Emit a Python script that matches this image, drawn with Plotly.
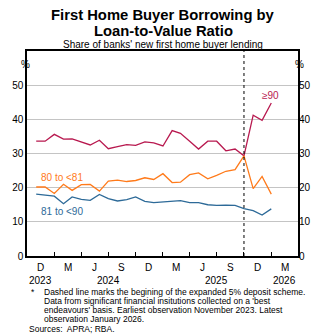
import plotly.graph_objects as go

months = ["2023-11-01", "2023-12-01", "2024-01-01", "2024-02-01", "2024-03-01", "2024-04-01",
          "2024-05-01", "2024-06-01", "2024-07-01", "2024-08-01", "2024-09-01", "2024-10-01",
          "2024-11-01", "2024-12-01", "2025-01-01", "2025-02-01", "2025-03-01", "2025-04-01",
          "2025-05-01", "2025-06-01", "2025-07-01", "2025-08-01", "2025-09-01", "2025-10-01",
          "2025-11-01", "2025-12-01", "2026-01-01"]

lvr_90_plus = [33.6, 33.6, 35.6, 34.2, 34.3, 33.4, 32.5, 33.9, 31.4, 32.0, 32.6, 32.4, 33.4, 33.1,
               32.2, 36.7, 35.9, 33.6, 31.3, 33.6, 33.6, 30.8, 31.3, 29.3, 41.2, 39.7, 44.8]
lvr_80_81 = [20.2, 20.2, 18.3, 21.0, 19.2, 20.9, 20.95, 19.0, 21.9, 22.2, 21.8, 22.1, 22.9, 22.4,
             24.1, 21.5, 21.6, 23.8, 24.3, 22.6, 23.6, 24.8, 25.3, 29.3, 19.7, 23.3, 18.1]
lvr_81_90 = [18.1, 17.8, 17.5, 15.3, 17.3, 16.6, 16.3, 18.0, 16.8, 16.1, 16.5, 17.3, 16.0, 15.6,
             15.8, 16.1, 16.2, 15.6, 15.6, 15.0, 14.8, 14.9, 14.8, 13.9, 13.3, 12.0, 13.8]

series_names = ["≥90", "80 to <81", "81 to <90"]
series_colors = ["#b8194f", "#ff7a1a", "#2d6a98"]

quarter_ticks = ["2024-01-01", "2024-04-01", "2024-07-01", "2024-10-01", "2025-01-01",
                 "2025-04-01", "2025-07-01", "2025-10-01", "2026-01-01"]
month_label_pos = ["2023-11-15", "2024-02-15", "2024-05-15", "2024-08-15", "2024-11-15",
                   "2025-02-15", "2025-05-15", "2025-08-15", "2025-11-15", "2026-02-15"]
month_labels = ["D", "M", "J", "S", "D", "M", "J", "S", "D", "M"]
year_label_pos = ["2023-11-15", "2024-07-01", "2025-07-01", "2026-02-15"]
year_labels = ["2023", "2024", "2025", "2026"]
y_ticks = [0, 10, 20, 30, 40, 50]
scheme_start = "2025-10-01"

FONT = "Liberation Sans, Arial, sans-serif"

fig = go.Figure()
for vals, name, col in zip([lvr_90_plus, lvr_80_81, lvr_81_90], series_names, series_colors):
    fig.add_trace(go.Scatter(x=months, y=vals, mode="lines", name=name,
                             line=dict(color=col, width=1.3), showlegend=False))
fig.add_trace(go.Scatter(x=months[:1], y=lvr_90_plus[:1], yaxis="y2", mode="markers",
                         marker=dict(opacity=0), showlegend=False, hoverinfo="skip"))

# plot area in pixels
top, bottom, left, right = 51, 256, 20, 298
H = bottom - top
W = right - left

def py(p):
    return (bottom - p) / H

fig.update_layout(
    width=323, height=334,
    margin=dict(l=left, r=323 - right, t=top, b=334 - bottom),
    paper_bgcolor="white", plot_bgcolor="white",
    font=dict(family=FONT, size=10, color="black"),
    xaxis=dict(type="date", range=["2023-10-01", "2026-04-01"], tickvals=quarter_ticks,
               showticklabels=False, ticks="inside", ticklen=4, tickcolor="black",
               showgrid=False, showline=True, linecolor="black", linewidth=1.5, mirror=True,
               zeroline=False),
    yaxis=dict(range=[0, 60], tickvals=y_ticks, showgrid=True, gridcolor="#c4c4c4",
               gridwidth=1, showline=True, linecolor="black", linewidth=1.5, mirror=True,
               zeroline=False, ticks="", tickfont=dict(size=10)),
    yaxis2=dict(range=[0, 60], tickvals=y_ticks, overlaying="y", side="right",
                showgrid=False, zeroline=False, ticks="", showline=False,
                tickfont=dict(size=10)),
)

fig.add_shape(type="line", x0=scheme_start, x1=scheme_start, y0=0, y1=1, xref="x", yref="paper",
              line=dict(color="black", width=1, dash="dot"))

ann = []
for xv, t in zip(month_label_pos, month_labels):
    ann.append(dict(x=xv, y=py(267.5), xref="x", yref="paper", text=t, showarrow=False,
                    font=dict(size=10), xanchor="center", yanchor="middle"))
for xv, t in zip(year_label_pos, year_labels):
    ann.append(dict(x=xv, y=py(280.5), xref="x", yref="paper", text=t, showarrow=False,
                    font=dict(size=10), xanchor="center", yanchor="middle"))

# series labels
ann.append(dict(x="2024-01-28", y=23.1, xref="x", yref="y", text="80 to <81", showarrow=False,
                font=dict(size=10, color=series_colors[1])))
ann.append(dict(x="2024-01-28", y=12.9, xref="x", yref="y", text="81 to <90", showarrow=False,
                font=dict(size=10, color=series_colors[2])))
ann.append(dict(x="2025-12-28", y=47.1, xref="x", yref="y", text="≥90", showarrow=False,
                font=dict(size=10, color=series_colors[0])))

# % labels
ann.append(dict(x=(12 - left) / W, y=py(56.5), xref="paper", yref="paper", text="%",
                showarrow=False, font=dict(size=10)))
ann.append(dict(x=(306 - left) / W, y=py(56.5), xref="paper", yref="paper", text="%",
                showarrow=False, font=dict(size=10)))

# titles
ann.append(dict(x=(160 - left) / W, y=py(15.2), xref="paper", yref="paper",
                text="<b>First Home Buyer Borrowing by</b>",
                showarrow=False, font=dict(size=14.8), yanchor="middle"))
ann.append(dict(x=(160 - left) / W, y=py(31), xref="paper", yref="paper",
                text="<b>Loan-to-Value Ratio</b>",
                showarrow=False, font=dict(size=14.8), yanchor="middle"))
ann.append(dict(x=(160 - left) / W, y=py(44.8), xref="paper", yref="paper",
                text="Share of banks' new first home buyer lending",
                showarrow=False, font=dict(size=10), yanchor="middle"))

# footnotes
notes = ["Dashed line marks the begining of the expanded 5% deposit scheme.",
         "Data from significant financial insitutions collected on a 'best",
         "endeavours' basis. Earliest observation November 2023. Latest",
         "observation January 2026."]
ann.append(dict(x=(22 - left) / W, y=py(291.5), xref="paper", yref="paper", text="*",
                showarrow=False, font=dict(size=8.5), xanchor="left", yanchor="middle"))
for i, t in enumerate(notes):
    ann.append(dict(x=(35 - left) / W, y=py(291.5 + 9.2 * i), xref="paper", yref="paper", text=t,
                    showarrow=False, font=dict(size=8.5), xanchor="left", yanchor="middle"))
ann.append(dict(x=(20 - left) / W, y=py(329.3), xref="paper", yref="paper",
                text="Sources:  APRA; RBA.", showarrow=False, font=dict(size=8.5),
                xanchor="left", yanchor="middle"))

fig.update_layout(annotations=ann)
fig.write_html("out.html")
